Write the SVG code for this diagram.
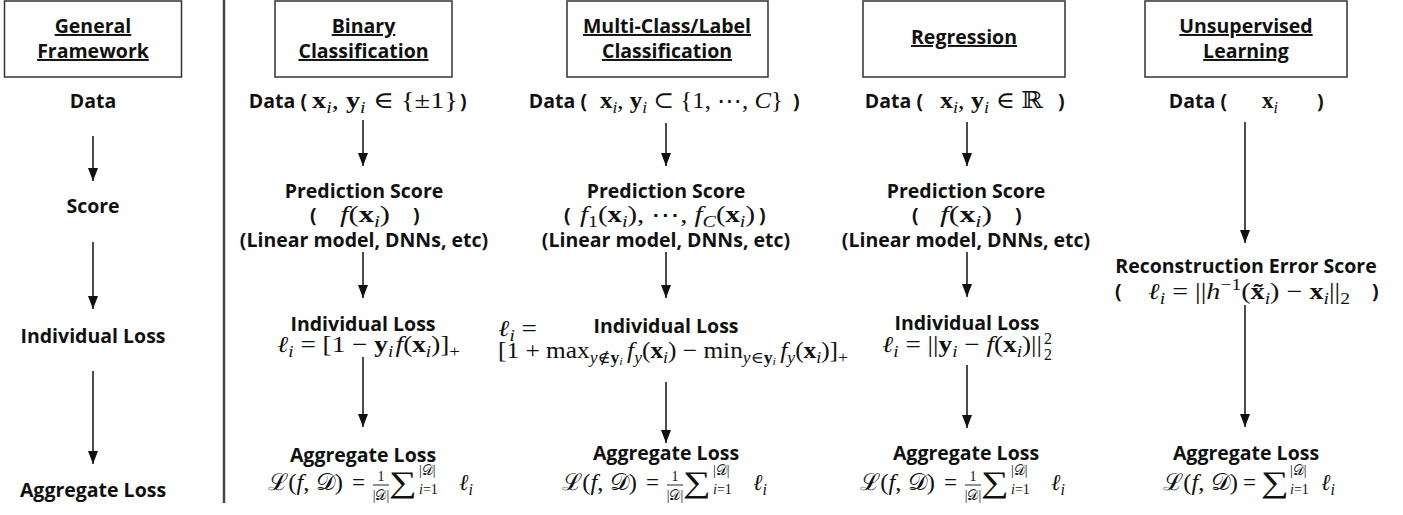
<svg xmlns="http://www.w3.org/2000/svg" width="1403" height="515" viewBox="0 0 1403 515">
<style>
.bg{fill:#ffffff}
.box{fill:#fff;stroke:#333;stroke-width:1.5}
.lbl{font-family:"Open Sans","Liberation Sans",sans-serif;font-weight:bold;font-size:19.5px;fill:#111}
.ttl{font-family:"Open Sans","Liberation Sans",sans-serif;font-weight:bold;font-size:19.5px;fill:#111;text-decoration:underline}
.m{font-family:"Liberation Serif","DejaVu Serif",serif;font-size:23px;fill:#111;font-weight:normal}
.bf{font-weight:bold}
.it{font-style:italic}
.s{font-size:16px}
.ss{font-size:11px}
.fr{font-size:14px}
.sig{font-size:30px}
.arr{stroke:#111;stroke-width:1.5;fill:none;marker-end:url(#ah)}
.div{stroke:#444;stroke-width:2.5}
.bar{stroke:#111;stroke-width:0.9}
</style>
<defs>
<marker id="ah" viewBox="0 0 13 10" markerWidth="13" markerHeight="10" refX="13" refY="5" orient="auto" markerUnits="userSpaceOnUse">
<path d="M0,0 L13,5 L0,10 z" fill="#111"/>
</marker>
</defs>
<rect class="bg" x="0" y="0" width="1403" height="515"/>

<g id="connectors">
<line class="arr" x1="93" y1="136" x2="93" y2="181"/>
<line class="arr" x1="93" y1="242" x2="93" y2="309"/>
<line class="arr" x1="93" y1="371" x2="93" y2="464"/>
<line class="arr" x1="363" y1="120" x2="363" y2="166"/>
<line class="arr" x1="363" y1="252" x2="363" y2="298"/>
<line class="arr" x1="363" y1="357" x2="363" y2="427"/>
<line class="arr" x1="666" y1="123" x2="666" y2="166"/>
<line class="arr" x1="666" y1="252" x2="666" y2="298"/>
<line class="arr" x1="666" y1="382" x2="666" y2="443"/>
<line class="arr" x1="967" y1="122" x2="967" y2="166"/>
<line class="arr" x1="967" y1="252" x2="967" y2="297"/>
<line class="arr" x1="967" y1="365" x2="967" y2="428"/>
<line class="arr" x1="1245" y1="122" x2="1245" y2="243"/>
<line class="arr" x1="1245" y1="305" x2="1245" y2="427"/>
</g>

<line id="divider" class="div" x1="224" y1="0" x2="224" y2="503"/>

<g id="general">
<rect class="box" x="4.5" y="1" width="177" height="76"/>
<text class="ttl" x="93" y="33" text-anchor="middle">General</text>
<text class="ttl" x="93" y="58" text-anchor="middle">Framework</text>
<text class="lbl" x="93" y="108" text-anchor="middle">Data</text>
<text class="lbl" x="93" y="213" text-anchor="middle">Score</text>
<text class="lbl" x="93" y="343" text-anchor="middle">Individual Loss</text>
<text class="lbl" x="93" y="497" text-anchor="middle">Aggregate Loss</text>
</g>

<g id="binary">
<rect class="box" x="275" y="1" width="177" height="76"/>
<text class="ttl" x="363.5" y="33" text-anchor="middle">Binary</text>
<text class="ttl" x="363.5" y="58" text-anchor="middle">Classification</text>
<text class="lbl" x="307" y="108" text-anchor="end">Data (</text>
<text class="m" x="312" y="108" textLength="146" lengthAdjust="spacingAndGlyphs"><tspan class="bf">x</tspan><tspan class="s it" dy="5">i</tspan><tspan dy="-5">, </tspan><tspan class="bf">y</tspan><tspan class="s it" dy="5">i</tspan><tspan dy="-5"> ∈ {±1}</tspan></text>
<text class="lbl" x="460" y="108">)</text>
<text class="lbl" x="364" y="198" text-anchor="middle">Prediction Score</text>
<text class="lbl" x="310" y="222">(</text>
<text class="m" x="340" y="222" textLength="50" lengthAdjust="spacingAndGlyphs"><tspan class="it">f</tspan><tspan>(</tspan><tspan class="bf">x</tspan><tspan class="s it" dy="5">i</tspan><tspan dy="-5">)</tspan></text>
<text class="lbl" x="413" y="222">)</text>
<text class="lbl" x="364" y="247" text-anchor="middle">(Linear model, DNNs, etc)</text>
<text class="lbl" x="363" y="331" text-anchor="middle">Individual Loss</text>
<text class="m" x="277" y="352" textLength="183" lengthAdjust="spacingAndGlyphs"><tspan class="it">ℓ</tspan><tspan class="s it" dy="5">i</tspan><tspan dy="-5"> = [1 − </tspan><tspan class="bf">y</tspan><tspan class="s it" dy="5">i</tspan><tspan class="it" dy="-5" dx="2">f</tspan><tspan>(</tspan><tspan class="bf">x</tspan><tspan class="s it" dy="5">i</tspan><tspan dy="-5">)]</tspan><tspan class="s" dy="5">+</tspan></text>
<text class="lbl" x="363" y="462" text-anchor="middle">Aggregate Loss</text>
<g transform="translate(268,0)">
<text class="m" x="0" y="490" textLength="75" lengthAdjust="spacingAndGlyphs">ℒ(<tspan class="it">f</tspan>, 𝒟)</text>
<text class="m" x="84" y="490">=</text>
<text class="m fr" x="113" y="481" text-anchor="middle">1</text>
<line class="bar" x1="105" y1="485" x2="121" y2="485"/>
<text class="m fr" x="113" y="500" text-anchor="middle">|𝒟|</text>
<text class="m sig" transform="translate(121,492) scale(1.3,1)">∑</text>
<text class="m fr" x="151" y="475">|𝒟|</text>
<text class="m fr" x="151" y="494"><tspan class="it">i</tspan>=1</text>
<text class="m" x="191" y="490"><tspan class="it">ℓ</tspan><tspan class="s it" dy="5">i</tspan></text>
</g>
</g>

<g id="multiclass">
<rect class="box" x="567" y="1" width="201" height="76"/>
<text class="ttl" x="667" y="33" text-anchor="middle">Multi-Class/Label</text>
<text class="ttl" x="667" y="58" text-anchor="middle">Classification</text>
<text class="lbl" x="587" y="108" text-anchor="end">Data (</text>
<text class="m" x="600" y="108" textLength="183" lengthAdjust="spacingAndGlyphs"><tspan class="bf">x</tspan><tspan class="s it" dy="5">i</tspan><tspan dy="-5">, </tspan><tspan class="bf">y</tspan><tspan class="s it" dy="5">i</tspan><tspan dy="-5"> ⊂ {1, ⋯, </tspan><tspan class="it">C</tspan><tspan>}</tspan></text>
<text class="lbl" x="793" y="108">)</text>
<text class="lbl" x="666" y="198" text-anchor="middle">Prediction Score</text>
<text class="lbl" x="564" y="222">(</text>
<text class="m" x="580" y="222" textLength="175" lengthAdjust="spacingAndGlyphs"><tspan class="it">f</tspan><tspan class="s" dy="5">1</tspan><tspan dy="-5">(</tspan><tspan class="bf">x</tspan><tspan class="s it" dy="5">i</tspan><tspan dy="-5">), ⋯, </tspan><tspan class="it">f</tspan><tspan class="s it" dy="5">C</tspan><tspan dy="-5">(</tspan><tspan class="bf">x</tspan><tspan class="s it" dy="5">i</tspan><tspan dy="-5">)</tspan></text>
<text class="lbl" x="759" y="222">)</text>
<text class="lbl" x="666" y="247" text-anchor="middle">(Linear model, DNNs, etc)</text>
<text class="lbl" x="666" y="333" text-anchor="middle">Individual Loss</text>
<text class="m" x="498" y="336" textLength="39" lengthAdjust="spacingAndGlyphs"><tspan class="it">ℓ</tspan><tspan class="s it" dy="5">i</tspan><tspan dy="-5"> =</tspan></text>
<text class="m" x="498" y="358" textLength="350" lengthAdjust="spacingAndGlyphs">[1 + max<tspan class="s" dy="5"><tspan class="it">y</tspan>∉<tspan class="bf">y</tspan><tspan class="ss it" dy="2">i</tspan></tspan><tspan class="it" dy="-7" dx="4">f</tspan><tspan class="s it" dy="5">y</tspan><tspan dy="-5">(</tspan><tspan class="bf">x</tspan><tspan class="s it" dy="5">i</tspan><tspan dy="-5">) − min</tspan><tspan class="s" dy="5"><tspan class="it">y</tspan>∈<tspan class="bf">y</tspan><tspan class="ss it" dy="2">i</tspan></tspan><tspan class="it" dy="-7" dx="4">f</tspan><tspan class="s it" dy="5">y</tspan><tspan dy="-5">(</tspan><tspan class="bf">x</tspan><tspan class="s it" dy="5">i</tspan><tspan dy="-5">)]</tspan><tspan class="s" dy="5">+</tspan></text>
<text class="lbl" x="666" y="460" text-anchor="middle">Aggregate Loss</text>
<g transform="translate(562,0)">
<text class="m" x="0" y="490" textLength="75" lengthAdjust="spacingAndGlyphs">ℒ(<tspan class="it">f</tspan>, 𝒟)</text>
<text class="m" x="84" y="490">=</text>
<text class="m fr" x="113" y="481" text-anchor="middle">1</text>
<line class="bar" x1="105" y1="485" x2="121" y2="485"/>
<text class="m fr" x="113" y="500" text-anchor="middle">|𝒟|</text>
<text class="m sig" transform="translate(121,492) scale(1.3,1)">∑</text>
<text class="m fr" x="151" y="475">|𝒟|</text>
<text class="m fr" x="151" y="494"><tspan class="it">i</tspan>=1</text>
<text class="m" x="191" y="490"><tspan class="it">ℓ</tspan><tspan class="s it" dy="5">i</tspan></text>
</g>
</g>

<g id="regression">
<rect class="box" x="863" y="1" width="202" height="76"/>
<text class="ttl" x="964" y="44" text-anchor="middle">Regression</text>
<text class="lbl" x="923" y="108" text-anchor="end">Data (</text>
<text class="m" x="940" y="108" textLength="103" lengthAdjust="spacingAndGlyphs"><tspan class="bf">x</tspan><tspan class="s it" dy="5">i</tspan><tspan dy="-5">, </tspan><tspan class="bf">y</tspan><tspan class="s it" dy="5">i</tspan><tspan dy="-5"> ∈ ℝ</tspan></text>
<text class="lbl" x="1058" y="108">)</text>
<text class="lbl" x="966" y="198" text-anchor="middle">Prediction Score</text>
<text class="lbl" x="912" y="222">(</text>
<text class="m" x="940" y="222" textLength="52" lengthAdjust="spacingAndGlyphs"><tspan class="it">f</tspan><tspan>(</tspan><tspan class="bf">x</tspan><tspan class="s it" dy="5">i</tspan><tspan dy="-5">)</tspan></text>
<text class="lbl" x="1015" y="222">)</text>
<text class="lbl" x="966" y="247" text-anchor="middle">(Linear model, DNNs, etc)</text>
<text class="lbl" x="967" y="330" text-anchor="middle">Individual Loss</text>
<text class="m" x="882" y="352" textLength="160" lengthAdjust="spacingAndGlyphs"><tspan class="it">ℓ</tspan><tspan class="s it" dy="5">i</tspan><tspan dy="-5"> = ||</tspan><tspan class="bf">y</tspan><tspan class="s it" dy="5">i</tspan><tspan dy="-5"> − </tspan><tspan class="it">f</tspan><tspan>(</tspan><tspan class="bf">x</tspan><tspan class="s it" dy="5">i</tspan><tspan dy="-5">)||</tspan></text>
<text class="m s" x="1044" y="344">2</text>
<text class="m s" x="1044" y="360">2</text>
<text class="lbl" x="966" y="460" text-anchor="middle">Aggregate Loss</text>
<g transform="translate(860,0)">
<text class="m" x="0" y="490" textLength="75" lengthAdjust="spacingAndGlyphs">ℒ(<tspan class="it">f</tspan>, 𝒟)</text>
<text class="m" x="84" y="490">=</text>
<text class="m fr" x="113" y="481" text-anchor="middle">1</text>
<line class="bar" x1="105" y1="485" x2="121" y2="485"/>
<text class="m fr" x="113" y="500" text-anchor="middle">|𝒟|</text>
<text class="m sig" transform="translate(121,492) scale(1.3,1)">∑</text>
<text class="m fr" x="151" y="475">|𝒟|</text>
<text class="m fr" x="151" y="494"><tspan class="it">i</tspan>=1</text>
<text class="m" x="191" y="490"><tspan class="it">ℓ</tspan><tspan class="s it" dy="5">i</tspan></text>
</g>
</g>

<g id="unsupervised">
<rect class="box" x="1145" y="1" width="202" height="76"/>
<text class="ttl" x="1246" y="33" text-anchor="middle">Unsupervised</text>
<text class="ttl" x="1246" y="58" text-anchor="middle">Learning</text>
<text class="lbl" x="1227" y="108" text-anchor="end">Data (</text>
<text class="m" x="1262" y="108"><tspan class="bf">x</tspan><tspan class="s it" dy="5">i</tspan></text>
<text class="lbl" x="1317" y="108">)</text>
<text class="lbl" x="1246" y="273" text-anchor="middle">Reconstruction Error Score</text>
<text class="lbl" x="1115" y="298">(</text>
<text class="m" x="1148" y="299" textLength="202" lengthAdjust="spacingAndGlyphs"><tspan class="it">ℓ</tspan><tspan class="s it" dy="5">i</tspan><tspan dy="-5"> = ||</tspan><tspan class="it">h</tspan><tspan class="s" dy="-9">−1</tspan><tspan dy="9">(</tspan><tspan class="bf">x̃</tspan><tspan class="s it" dy="5">i</tspan><tspan dy="-5">) − </tspan><tspan class="bf">x</tspan><tspan class="s it" dy="5">i</tspan><tspan dy="-5">||</tspan><tspan class="s" dy="5">2</tspan></text>
<text class="lbl" x="1372" y="298">)</text>
<text class="lbl" x="1246" y="460" text-anchor="middle">Aggregate Loss</text>
<g transform="translate(1163,0)">
<text class="m" x="0" y="490" textLength="75" lengthAdjust="spacingAndGlyphs">ℒ(<tspan class="it">f</tspan>, 𝒟)</text>
<text class="m" x="80" y="490">=</text>
<text class="m sig" transform="translate(98,492) scale(1.3,1)">∑</text>
<text class="m fr" x="127" y="475">|𝒟|</text>
<text class="m fr" x="127" y="494"><tspan class="it">i</tspan>=1</text>
<text class="m" x="158" y="490"><tspan class="it">ℓ</tspan><tspan class="s it" dy="5">i</tspan></text>
</g>
</g>
</svg>
